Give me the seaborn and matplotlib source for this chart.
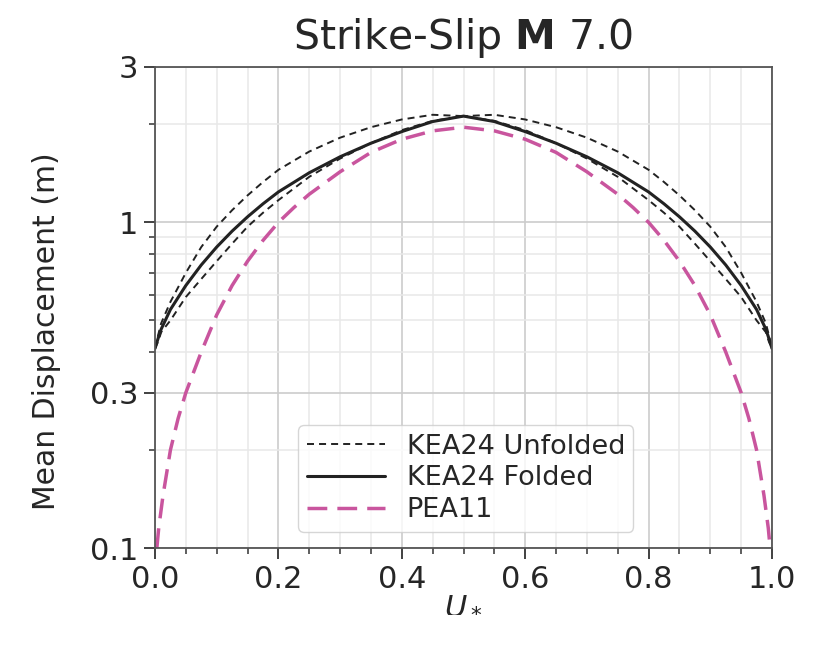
import matplotlib
matplotlib.use("Agg")
import matplotlib.pyplot as plt
import matplotlib.ticker as mticker
import pandas as pd
import seaborn as sns

# Normalized position along rupture
U_KEA = [0.0, 0.005, 0.01, 0.025, 0.05, 0.075, 0.1, 0.125, 0.15, 0.175, 0.2, 0.25, 0.3,
         0.35, 0.4, 0.45, 0.5, 0.55, 0.6, 0.65, 0.7, 0.75, 0.8, 0.825, 0.85, 0.875, 0.9,
         0.925, 0.95, 0.975, 0.99, 0.995, 1.0]
# KEA24 unfolded (two asymmetric branches), mean displacement in m
UNFOLDED_A = [0.41, 0.45, 0.49, 0.57, 0.70, 0.84, 0.97, 1.09, 1.21, 1.33, 1.45, 1.65, 1.82,
              1.96, 2.07, 2.14, 2.12, 2.05, 1.92, 1.75, 1.57, 1.38, 1.17, 1.07, 0.97, 0.86,
              0.76, 0.67, 0.59, 0.50, 0.46, 0.43, 0.41]
UNFOLDED_B = [0.41, 0.43, 0.46, 0.50, 0.59, 0.67, 0.76, 0.86, 0.97, 1.07, 1.17, 1.38, 1.57,
              1.75, 1.92, 2.05, 2.12, 2.14, 2.07, 1.96, 1.82, 1.65, 1.45, 1.33, 1.21, 1.09,
              0.97, 0.84, 0.70, 0.57, 0.49, 0.45, 0.41]
# KEA24 folded
FOLDED = [0.41, 0.44, 0.47, 0.54, 0.64, 0.74, 0.84, 0.94, 1.04, 1.14, 1.24, 1.42, 1.59,
          1.75, 1.90, 2.04, 2.12, 2.04, 1.90, 1.75, 1.59, 1.42, 1.24, 1.14, 1.04, 0.94,
          0.84, 0.74, 0.64, 0.54, 0.47, 0.44, 0.41]

# PEA11
U_PEA = [0.003, 0.006, 0.013, 0.025, 0.0375, 0.05, 0.075, 0.1, 0.125, 0.15, 0.175, 0.2,
         0.225, 0.25, 0.3, 0.35, 0.4, 0.45, 0.5, 0.55, 0.6, 0.65, 0.7, 0.75, 0.775, 0.8,
         0.825, 0.85, 0.875, 0.9, 0.925, 0.95, 0.9625, 0.975, 0.987, 0.994, 0.997]
PEA11 = [0.10, 0.115, 0.145, 0.20, 0.25, 0.30, 0.40, 0.52, 0.64, 0.76, 0.88, 1.00,
         1.11, 1.22, 1.43, 1.64, 1.80, 1.91, 1.96, 1.91, 1.80, 1.64, 1.43, 1.22, 1.11, 1.00,
         0.88, 0.76, 0.64, 0.52, 0.40, 0.30, 0.25, 0.20, 0.145, 0.115, 0.10]

Y_TICKS = [0.1, 0.3, 1, 3]
Y_TICKLABELS = ["0.1", "0.3", "1", "3"]

PINK = "#c9559e"
INK = "#262626"

sns.set_theme(style="ticks")
plt.rcParams["font.family"] = ["DejaVu Sans"]

fig = plt.figure(figsize=(8.23, 6.5), dpi=100)
ax = fig.add_axes([155 / 823, 1 - 548 / 650, 617 / 823, 481 / 650])

kea = pd.DataFrame({"u": U_KEA, "a": UNFOLDED_A, "b": UNFOLDED_B, "f": FOLDED})
pea = pd.DataFrame({"u": U_PEA, "d": PEA11})

sns.lineplot(data=pea, x="u", y="d", ax=ax, color=PINK, lw=2.5,
             linestyle=(0, (5.7, 2.9)), label="PEA11")
sns.lineplot(data=kea, x="u", y="a", ax=ax, color="#222222", lw=1.4,
             linestyle=(0, (3.6, 2.6)), label="KEA24 Unfolded")
sns.lineplot(data=kea, x="u", y="b", ax=ax, color="#222222", lw=1.4,
             linestyle=(0, (3.6, 2.6)), label="_nolegend_")
sns.lineplot(data=kea, x="u", y="f", ax=ax, color="#222222", lw=2.2,
             label="KEA24 Folded")

ax.set_yscale("log")
ax.set_xlim(0, 1)
ax.set_ylim(0.1, 3)
ax.set_yticks(Y_TICKS)
ax.set_yticklabels(Y_TICKLABELS)
ax.yaxis.set_minor_formatter(mticker.NullFormatter())
ax.xaxis.set_major_locator(mticker.MultipleLocator(0.2))
ax.xaxis.set_minor_locator(mticker.MultipleLocator(0.05))
ax.xaxis.set_major_formatter(mticker.FormatStrFormatter("%.1f"))

ax.grid(which="major", color="#cccccc", lw=1.2)
ax.grid(which="minor", color="#e8e8e8", lw=1.1)
ax.set_axisbelow(True)
for s in ax.spines.values():
    s.set_color("#555555")
    s.set_linewidth(1.3)
ax.tick_params(which="major", length=8, width=1.3, labelsize=22, color="#333333",
               labelcolor=INK, pad=4)
ax.tick_params(which="minor", length=4.5, width=1.1, color="#333333")

ax.set_xlabel("$U_*$", fontsize=22, color=INK)
ax.xaxis.set_label_coords(0.5, -0.085)
ax.set_ylabel("Mean Displacement (m)", fontsize=21.5, color=INK)
ax.yaxis.set_label_coords(-0.152, 0.45)
ax.set_title(r"Strike-Slip $\mathbf{M}$ 7.0", fontsize=29.5, color=INK, pad=13)

handles, labels = ax.get_legend_handles_labels()
order = [labels.index(n) for n in ["KEA24 Unfolded", "KEA24 Folded", "PEA11"]]
leg = ax.legend([handles[i] for i in order], [labels[i] for i in order],
                loc="lower center", bbox_to_anchor=(0.504, 0.006), fontsize=19.5,
                handlelength=2.9, frameon=True, borderpad=0.3, labelspacing=0.22,
                handletextpad=0.8)
leg.get_frame().set_edgecolor("#cccccc")
for t in leg.get_texts():
    t.set_color(INK)

fig.savefig("out.png", dpi=100)
